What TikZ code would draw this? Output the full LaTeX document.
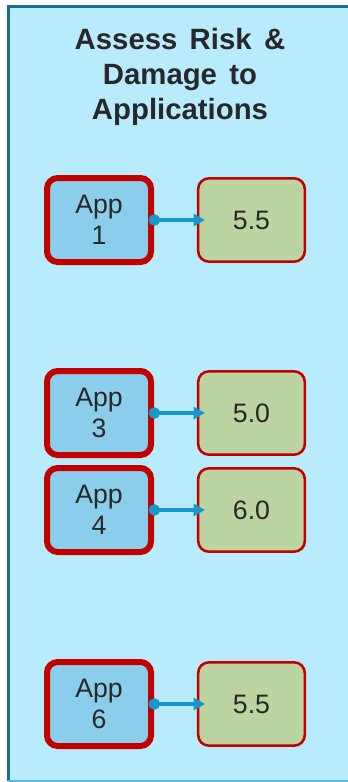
\documentclass[tikz,border=0pt]{standalone}
\usepackage{fontspec}
\setmainfont{Liberation Sans}
\usetikzlibrary{arrows.meta}
\usetikzlibrary{positioning}

\definecolor{panelblue}{RGB}{184,235,252}
\definecolor{paneledge}{RGB}{24,112,142}
\definecolor{appblue}{RGB}{138,206,235}
\definecolor{appred}{RGB}{194,0,0}
\definecolor{scoregreen}{RGB}{188,212,161}
\definecolor{linkblue}{RGB}{22,152,202}
\definecolor{textgray}{RGB}{40,40,40}

\newcommand{\wsp}{\hspace{0.42em}}

\begin{document}
\begin{tikzpicture}[x=0.75pt,y=-0.75pt,thick,
  app node/.style={rectangle,rounded corners=8pt,fill=appblue,draw=appred,line width=4.5pt,align=center,minimum width=78pt,minimum height=63pt,inner sep=0pt,font=\fontsize{20}{23}\selectfont,text=textgray},
  score node/.style={rectangle,rounded corners=8pt,fill=scoregreen,draw=appred,line width=1.9pt,align=center,minimum width=80pt,minimum height=62.5pt,inner sep=0pt,font=\fontsize{20}{23}\selectfont,text=textgray},
  link/.style={draw=linkblue,line width=2.6pt,{Circle[length=8.5pt]}-{Triangle[length=8.5pt,width=9pt]},shorten <=-4pt,shorten >=-6pt}]

	      \useasboundingbox (0,0) rectangle (348,782);

	      % panel
	      \fill[panelblue] (8,6) rectangle (352,781);
	      \draw[paneledge,line width=2.2pt] (8,6.5) -- (352,6.5);
	      \draw[paneledge,line width=2.2pt] (8.5,5) -- (8.5,781);
	      \draw[linkblue!70,line width=0.8pt] (8,781) -- (352,781);

	      \node[align=center,font=\bfseries\fontsize{22}{26}\selectfont,text=textgray] at (180,77) (title) {Assess\wsp Risk\wsp\&\\Damage\wsp to\\Applications};

	      \node[app node] at (99,220) (app1) {App\\1};
	      \node[app node] at (99,413) (app3) {App\\3};
	      \node[app node] at (99,510) (app4) {App\\4};
	      \node[app node] at (99,704) (app6) {App\\6};

	      \node[score node] at (251.5,220) (risk1) {5.5};
	      \node[score node] at (251.5,413) (risk3) {5.0};
	      \node[score node] at (251.5,510) (risk4) {6.0};
	      \node[score node] at (251.5,704) (risk6) {5.5};

	      \draw[link] (app1) -- (risk1);
	      \draw[link] (app3) -- (risk3);
	      \draw[link] (app4) -- (risk4);
	      \draw[link] (app6) -- (risk6);

	    \end{tikzpicture}
\end{document}
